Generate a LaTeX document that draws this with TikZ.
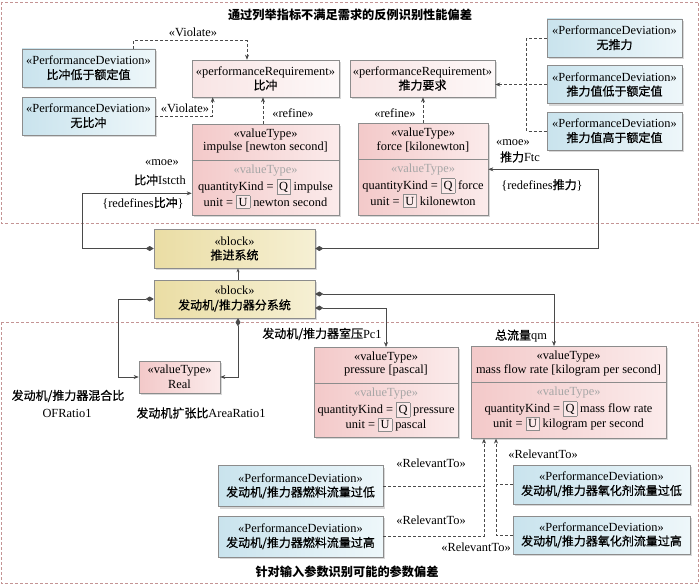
\documentclass[tikz,border=0pt]{standalone}
\usepackage{fontspec}
\setmainfont{Liberation Serif}
\newfontfamily\cjk[FakeBold=0.6]{Noto Sans CJK SC}
\newfontfamily\cjkt{Noto Sans CJK SC}
\usetikzlibrary{arrows.meta,shadows}
\definecolor{pdL}{HTML}{C9E3ED}
\definecolor{pdR}{HTML}{EEF7FA}
\definecolor{prL}{HTML}{F8E4E4}
\definecolor{prR}{HTML}{FDF8F8}
\definecolor{vtL}{HTML}{F3C9C9}
\definecolor{vtR}{HTML}{FBEBEB}
\definecolor{bkL}{HTML}{EADDA4}
\definecolor{bkR}{HTML}{F6F0D4}
\definecolor{edge}{HTML}{8C8C8C}
\definecolor{conn}{HTML}{4A4A4A}
\definecolor{region}{HTML}{C49494}
\definecolor{kbf}{HTML}{FBE9E9}
\newcommand\st[1]{«#1»}
\newcommand\zh[1]{{\cjk\fontsize{12}{14}\selectfont #1}}
\newcommand\kb[1]{{\setlength\fboxsep{2pt}\setlength\fboxrule{0.5pt}\fcolorbox{edge}{kbf}{#1}}}
\newcommand\valtype[8]{%
  \node[vt, minimum width=#4pt, minimum height=#5pt, anchor=north] (#1) at (#2,#3) {};
  \draw[draw=edge, line width=0.6pt] ([yshift=-36pt]#1.north west) -- ([yshift=-36pt]#1.north east);
  \node[txt] (#1-h1) at ([yshift=-11pt]#1.north) {\st{valueType}};
  \node[txt] (#1-h2) at ([yshift=-24pt]#1.north) {#6};
  \node[txt, text=gray!70] (#1-g) at ([yshift=-47pt]#1.north) {\st{valueType}};
  \node[txt] (#1-q) at ([yshift=-63pt]#1.north) {quantityKind = \kb{Q} #7};
  \node[txt] (#1-u) at ([yshift=-78pt]#1.north) {unit = \kb{U} #8};
}
\begin{document}
\begin{tikzpicture}[x=1pt,y=-1pt,
  txt/.style={inner sep=0pt, font=\fontsize{12.4}{14}\selectfont, align=center},
  box/.style={draw=edge, line width=0.6pt,
    drop shadow={shadow xshift=2pt, shadow yshift=-2pt, opacity=0.3},
    inner sep=1pt, align=center, font=\fontsize{12.4}{14.5}\selectfont},
  pd/.style={box, left color=pdL, right color=pdR},
  pr/.style={box, left color=prL, right color=prR},
  vt/.style={box, left color=vtL, right color=vtR},
  blk/.style={box, left color=bkL, right color=bkR},
  conn/.style={draw=conn, line width=0.6pt},
  dep/.style={conn, dash pattern=on 3pt off 2pt, -{Stealth[length=5pt,width=4pt]}},
  depl/.style={conn, dash pattern=on 3pt off 2pt},
  comp/.style={conn, {Diamond[length=8pt,width=5pt]}-{Stealth[length=5pt,width=4pt]}},
  region/.style={draw=region, line width=0.6pt, dash pattern=on 3pt off 2pt},
]
\fill[white] (0,0) rectangle (700,586);
\useasboundingbox (0,0) rectangle (700,586);

% regions
\draw[region] (1.5,2) rectangle (698.5,223);
\draw[region] (1.5,322) rectangle (698.5,583.5);
\node[txt] (t1) at (350,15) {{\cjkt\bfseries\fontsize{12.2}{14}\selectfont 通过列举指标不满足需求的反例识别性能偏差}};
\node[txt] (t2) at (347,572) {{\cjkt\bfseries\fontsize{12.2}{14}\selectfont 针对输入参数识别可能的参数偏差}};

% top region boxes
\node[pd, minimum width=133pt, minimum height=38pt] (pdA) at (88.5,68) {\st{PerformanceDeviation}\\\zh{比冲低于额定值}};
\node[pd, minimum width=133pt, minimum height=38pt] (pdB) at (88.5,116) {\st{PerformanceDeviation}\\\zh{无比冲}};
\node[pr, minimum width=147pt, minimum height=37pt] (prA) at (265.5,78.5) {\st{performanceRequirement}\\\zh{比冲}};
\node[pr, minimum width=145pt, minimum height=37pt] (prB) at (422.5,78.5) {\st{performanceRequirement}\\\zh{推力要求}};
\node[pd, minimum width=135pt, minimum height=38pt] (pdC) at (614.5,38) {\st{PerformanceDeviation}\\\zh{无推力}};
\node[pd, minimum width=135pt, minimum height=38pt] (pdD) at (614.5,84.5) {\st{PerformanceDeviation}\\\zh{推力值低于额定值}};
\node[pd, minimum width=135pt, minimum height=38pt] (pdE) at (614.5,131) {\st{PerformanceDeviation}\\\zh{推力值高于额定值}};
\valtype{vtA}{265.5}{124}{147}{91}{impulse [newton second]}{impulse}{newton second}
\valtype{vtB}{423}{123}{130}{92}{force [kilonewton]}{force}{kilonewton}

% blocks
\node[blk, minimum width=161pt, minimum height=39pt] (blkA) at (234.5,248.5) {\st{block}\\\zh{推进系统}};
\node[blk, minimum width=161pt, minimum height=38pt] (blkB) at (234.5,299) {\st{block}\\\zh{发动机/推力器分系统}};

% bottom region boxes
\node[vt, minimum width=81pt, minimum height=32pt] (real) at (179.5,377) {\st{valueType}\\Real};
\valtype{vtC}{386}{347}{144}{90}{pressure [pascal]}{pressure}{pascal}
\valtype{vtD}{568.5}{346}{195}{92}{mass flow rate [kilogram per second]}{mass flow rate}{kilogram per second}
\node[pd, minimum width=165pt, minimum height=41pt] (pdF) at (300.5,486) {\st{PerformanceDeviation}\\\zh{发动机/推力器燃料流量过低}};
\node[pd, minimum width=165pt, minimum height=41pt] (pdG) at (300.5,536.5) {\st{PerformanceDeviation}\\\zh{发动机/推力器燃料流量过高}};
\node[pd, minimum width=177pt, minimum height=39pt] (pdH) at (601.5,484.5) {\st{PerformanceDeviation}\\\zh{发动机/推力器氧化剂流量过低}};
\node[pd, minimum width=177pt, minimum height=38pt] (pdI) at (601.5,535) {\st{PerformanceDeviation}\\\zh{发动机/推力器氧化剂流量过高}};

% top connectors
\draw[dep] ([xshift=-22pt]pdA.north east) -- ++(0,-8) -| ([xshift=-18.5pt]prA.north);
\node[txt] (lv1) at (193,32) {\st{Violate}};
\draw[dep] (pdB.east) -| ([xshift=21pt]prA.south west);
\node[txt] (lv2) at (185,108) {\st{Violate}};
\draw[dep] ([xshift=-2.5pt]vtA.north) -- ([xshift=-2.5pt]prA.south);
\node[txt] (lr1) at (293,113) {\st{refine}};
\draw[dep] (vtB.north) -- (vtB.north |- prB.south);
\node[txt] (lr2) at (395,113) {\st{refine}};
\draw[depl] (pdC.west) -- ++(-20,0) |- (pdE.west);
\draw[dep] (pdD.west) -- (prB.east |- pdD.west);

\draw[comp] (blkA.west) -- ++(-71,0) |- ([yshift=-23.5pt]vtA.west);
\node[txt] (m1) at (162,163) {\st{moe}};
\node[txt] (m2) at (160,180) {\zh{比冲}Istcth};
\node[txt] (m3) at (143,203) {\{redefines\zh{比冲}\}};
\draw[comp] (blkA.east) -- ++(283,0) |- (vtB.east);
\node[txt] (m4) at (513,143) {\st{moe}};
\node[txt] (m5) at (520,157) {\zh{推力}Ftc};
\node[txt] (m6) at (542,185) {\{redefines\zh{推力}\}};

% block connectors
\draw[conn, -{Stealth[length=4pt,width=3pt]}] ([xshift=3.5pt]blkB.north) -- ([xshift=3.5pt]blkA.south);
\draw[comp] (blkB.west) -- ++(-35,0) |- (real.west);
\draw[comp] ([xshift=3.5pt]blkB.south) |- (real.east);
\node[txt] (o1) at (68,396) {\zh{发动机/推力器混合比}};
\node[txt] (o2) at (67,413) {OFRatio1};
\node[txt] (o3) at (201,413) {\zh{发动机扩张比}AreaRatio1};
\draw[comp] ([yshift=5pt]blkB.east) -| ([xshift=-14.5pt]vtD.north);
\draw[comp] ([yshift=-9pt]blkB.east) -| (vtC.north);
\node[txt] (p1) at (322,334) {\zh{发动机/推力器室压}Pc1};
\node[txt] (p2) at (521,336) {\zh{总流量}qm};

% relevant connectors
\coordinate (r1) at ([xshift=-84.5pt]vtD.south);
\coordinate (r2) at ([xshift=-72.5pt]vtD.south);
\draw[dep] (pdG.east) -| (r1);
\draw[depl] (pdF.east) -- (pdF.east -| r1);
\draw[dep] (pdI.west) -| (r2);
\draw[depl] (pdH.west) -- (pdH.west -| r2);
\node[txt] (rt1) at (431,463) {\st{RelevantTo}};
\node[txt] (rt2) at (431,520) {\st{RelevantTo}};
\node[txt] (rt3) at (543,454) {\st{RelevantTo}};
\node[txt] (rt4) at (476,547) {\st{RelevantTo}};
\end{tikzpicture}
\end{document}
